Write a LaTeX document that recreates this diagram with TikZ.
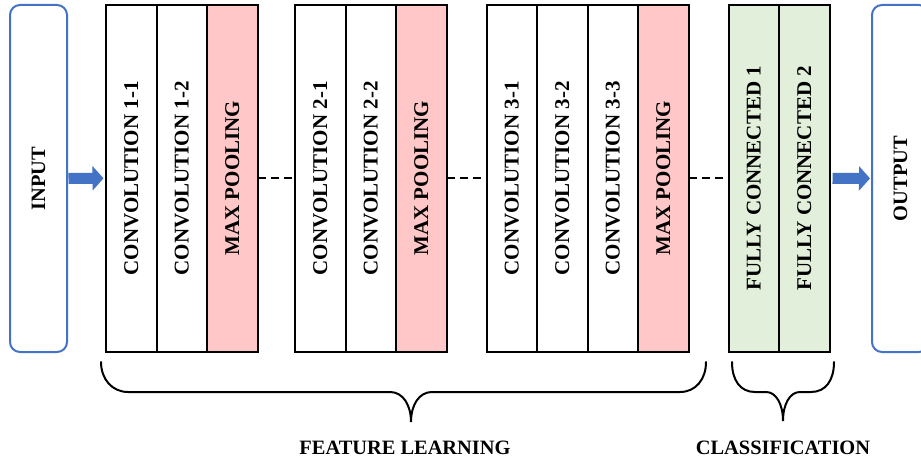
\documentclass[tikz,border=0pt]{standalone}
\usepackage{fontspec}
\usepackage{graphicx}
\setmainfont{Liberation Serif}
\usetikzlibrary{positioning,arrows.meta}

\definecolor{poolred}{RGB}{255,199,199}
\definecolor{fcgreen}{RGB}{226,239,218}
\definecolor{ioblue}{RGB}{68,114,196}

\tikzset{
  cell/.style={draw,line width=2pt,fill=white,minimum width=50.5pt,minimum height=346.5pt,
    inner sep=0pt,outer sep=0pt,font=\fontsize{21}{24}\selectfont\bfseries},
  pool/.style={cell,fill=poolred},
  fc/.style={cell,fill=fcgreen},
  io/.style={draw=ioblue,line width=2pt,rounded corners=10pt,minimum width=57pt,
    minimum height=347pt,inner sep=0pt,outer sep=0pt,font=\fontsize{20.4}{24}\selectfont\bfseries},
  flow/.style={ioblue,line width=11pt,-{Triangle[length=11pt,width=24pt]}},
  link/.style={line width=2pt,dash pattern=on 8pt off 5pt},
  brace/.style={line width=2pt,line cap=round},
  caption/.style={font=\fontsize{20.4}{24}\selectfont\bfseries}
}

\begin{document}
\begin{tikzpicture}[x=1pt,y=-1pt]
\path[fill=white] (0,0) rectangle (921,462);
\useasboundingbox (0,0) rectangle (921,462);

\node [io] (in) at (38.5,178.5) {\rotatebox{90}{INPUT}};
\node [io] (out) at (900.5,178.5) {\rotatebox{90}{OUTPUT}};

% feature learning
\node [cell] (c11) at (131.25,178.25) {\rotatebox{90}{CONVOLUTION 1-1}};
\node [cell,right=0pt of c11] (c12) {\rotatebox{90}{CONVOLUTION 1-2}};
\node [pool,right=0pt of c12] (p1) {\rotatebox{90}{MAX POOLING}};

\node [cell,right=37.5pt of p1] (c21) {\rotatebox{90}{CONVOLUTION 2-1}};
\node [cell,right=0pt of c21] (c22) {\rotatebox{90}{CONVOLUTION 2-2}};
\node [pool,right=0pt of c22] (p2) {\rotatebox{90}{MAX POOLING}};

\node [cell,right=40pt of p2] (c31) {\rotatebox{90}{CONVOLUTION 3-1}};
\node [cell,right=0pt of c31] (c32) {\rotatebox{90}{CONVOLUTION 3-2}};
\node [cell,right=0pt of c32] (c33) {\rotatebox{90}{CONVOLUTION 3-3}};
\node [pool,right=0pt of c33] (p3) {\rotatebox{90}{MAX POOLING}};

% classification
\node [fc,right=40pt of p3] (f1) {\rotatebox{90}{FULLY CONNECTED 1}};
\node [fc,right=0pt of f1] (f2) {\rotatebox{90}{FULLY CONNECTED 2}};

\draw [flow,shorten <=1.5pt,shorten >=2.5pt] (in) -- (c11);
\draw [flow,shorten <=3pt,shorten >=2pt] (f2) -- (out);
\draw [link] (p1) -- (c21);
\draw [link] (p2) -- (c31);
\draw [link] (p3) -- (f1);

\draw [brace] (101,362) .. controls (101,379) and (112,392) .. (128,392) -- (390,392)
  .. controls (403,392) and (411,405) .. (411,422)
  .. controls (411,405) and (419,392) .. (432,392) -- (680,392)
  .. controls (696,392) and (706,379) .. (706,362);
\draw [brace] (732,362) .. controls (732,380) and (740,392) .. (755,392) -- (766,392)
  .. controls (776,392) and (783,404) .. (783,421)
  .. controls (783,404) and (790,392) .. (800,392) -- (811,392)
  .. controls (826,392) and (834,380) .. (834,362);

\node [caption] (feat) at (405,448) {FEATURE LEARNING};
\node [caption] (cls) at (783,448) {CLASSIFICATION};

\end{tikzpicture}
\end{document}
